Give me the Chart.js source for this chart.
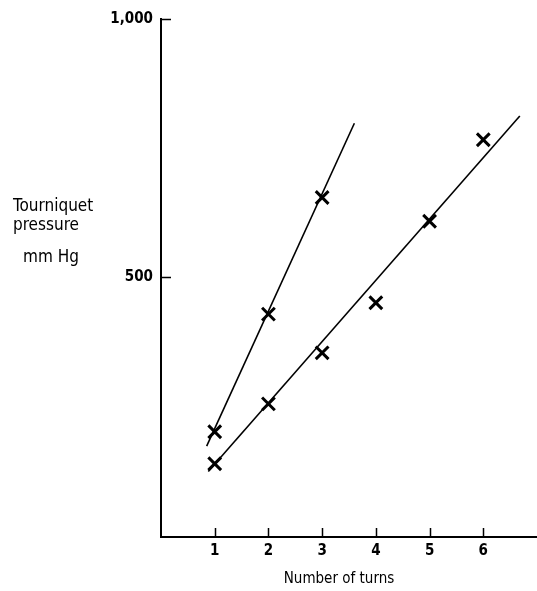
<!DOCTYPE html>
<html>
<head>
<meta charset="utf-8">
<script src="https://cdn.jsdelivr.net/npm/chart.js@4/dist/chart.umd.min.js"></script>
<style>
  html, body { margin: 0; padding: 0; background: #fff; }
  canvas { display: block; }
</style>
</head>
<body>
<canvas id="myChart" width="537" height="591"></canvas>
<script>
var ctx = document.getElementById('myChart').getContext('2d');

// measured points (number of turns vs pressure)
var turnsA = [1, 2, 3];
var pressureA = [200, 428, 654];
var turnsB = [1, 2, 3, 4, 5, 6];
var pressureB = [138, 254, 353, 450, 608, 766];

// hand drawn fit lines, end points
var fitAx = [0.85, 3.6];
var fitAy = [172, 798];
var fitBx = [0.88, 6.68];
var fitBy = [123, 812];

var xTicks = [1, 2, 3, 4, 5, 6];
var yTicks = [500, 1000];

var xTitle = 'Number of turns';
var yTitle = ['Tourniquet', 'pressure'];
var yUnit = 'mm Hg';

var fontFam = "'DejaVu Sans Condensed', 'Liberation Sans Narrow', 'DejaVu Sans', sans-serif";

function toPts(xs, ys){
  var out = [];
  for (var i = 0; i < xs.length; i++){
    out.push({x: xs[i], y: ys[i]});
  }
  return out;
}

// ticks point inward, plus the free standing axis titles
var innerTicks = {
  id: 'innerTicks',
  afterDraw: function(chart){
    var c = chart.ctx;
    var x = chart.scales.x;
    var y = chart.scales.y;
    c.save();
    c.strokeStyle = '#000';
    c.lineWidth = 1.5;
    c.beginPath();
    for (var i = 0; i < x.ticks.length; i++){
      var px = Math.round(x.getPixelForTick(i)) + 0.5;
      c.moveTo(px, x.top);
      c.lineTo(px, x.top - 9);
    }
    for (var j = 0; j < y.ticks.length; j++){
      var py = Math.round(y.getPixelForTick(j)) + 0.5;
      c.moveTo(y.right, py);
      c.lineTo(y.right + 10, py);
    }
    c.stroke();

    c.fillStyle = '#000';
    c.textBaseline = 'middle';
    c.textAlign = 'left';
    c.font = '17px ' + fontFam;
    c.fillText(yTitle[0], 13, 207);
    c.fillText(yTitle[1], 13, 226);
    c.fillText(yUnit, 23, 258);
    c.textAlign = 'center';
    c.font = '15px ' + fontFam;
    c.fillText(xTitle, 339, 579);
    c.restore();
  }
};

var myChart = new Chart(ctx, {
  type: 'scatter',
  data: {
    datasets: [{
      data: toPts(fitAx, fitAy),
      showLine: true,
      borderColor: '#000',
      borderWidth: 1.6,
      pointRadius: 0
    },{
      data: toPts(fitBx, fitBy),
      showLine: true,
      borderColor: '#000',
      borderWidth: 1.6,
      pointRadius: 0
    },{
      data: toPts(turnsA, pressureA),
      pointStyle: 'crossRot',
      pointRadius: 9,
      borderColor: '#000',
      borderWidth: 3
    },{
      data: toPts(turnsB, pressureB),
      pointStyle: 'crossRot',
      pointRadius: 9,
      borderColor: '#000',
      borderWidth: 3
    }]
  },
  options: {
    responsive: false,
    animation: false,
    layout: {
      autoPadding: false,
      padding: { top: 19, right: 0, left: 0, bottom: 0 }
    },
    plugins: {
      legend: { display: false },
      tooltip: { enabled: false }
    },
    scales: {
      x: {
        type: 'linear',
        min: 0,
        max: 7,
        afterBuildTicks: function(scale){
          scale.ticks = xTicks.map(function(v){ return {value: v}; });
        },
        afterFit: function(scale){
          scale.height = 54;
          scale.paddingLeft = 0;
          scale.paddingRight = 0;
        },
        grid: { display: true, drawOnChartArea: false, drawTicks: false },
        border: { display: true, color: '#000', width: 2 },
        ticks: {
          color: '#000',
          padding: 5,
          maxRotation: 0,
          font: { family: fontFam, size: 15, weight: 'bold' }
        }
      },
      y: {
        type: 'linear',
        min: -4,
        max: 1000,
        afterBuildTicks: function(scale){
          scale.ticks = yTicks.map(function(v){ return {value: v}; });
        },
        afterFit: function(scale){
          scale.width = 161;
          scale.paddingTop = 0;
          scale.paddingBottom = 0;
        },
        grid: { display: true, drawOnChartArea: false, drawTicks: false },
        border: { display: true, color: '#000', width: 2 },
        ticks: {
          color: '#000',
          padding: 8,
          font: { family: fontFam, size: 15, weight: 'bold' },
          callback: function(v){ return v.toLocaleString('en-US'); }
        }
      }
    }
  },
  plugins: [innerTicks]
});
</script>
</body>
</html>
